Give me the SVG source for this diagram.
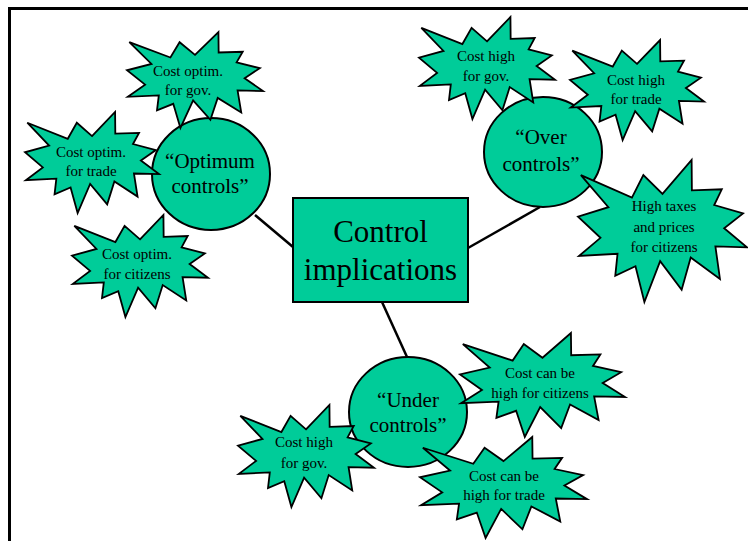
<svg xmlns="http://www.w3.org/2000/svg" xmlns:xlink="http://www.w3.org/1999/xlink" width="748" height="541" viewBox="0 0 748 541">
  <style>
    .frame { stroke: #000; stroke-width: 3; fill: none; }
    .link { stroke: #000; stroke-width: 2.5; fill: none; }
    .node { fill: #00cc99; stroke: #000; stroke-width: 2; }
    .burst { fill: #00cc99; stroke: #000; stroke-width: 1.8; stroke-linejoin: miter; vector-effect: non-scaling-stroke; }
    text { font-family: "Liberation Serif", "Times New Roman", serif; fill: #000; text-anchor: middle; }
    .big { font-size: 31px; }
    .mid { font-size: 21px; }
    .small { font-size: 15px; }
  </style>
  <defs>
    <!-- 12-spike explosion outline on a 100x100 unit box -->
    <polygon id="burst" class="burst" points="50,23.83 67.23,0 67.39,21.37 85.09,20.63 80.6,31.69 97.67,37.67 86.49,48.08 100,61.53 81.3,60.87 84,83.77 66.7,68.72 61.33,91.38 48.61,71.2 39.28,100 34.01,74.79 22.05,81.56 23.39,66.02 0.63,67.53 13.3,54.81 0,39.88 17.99,33.25 1.71,10.63 31.91,26.53 38.67,10.63"/>
  </defs>

  <rect width="748" height="541" fill="#fff"/>
  <!-- page frame (top and left edges) -->
  <path class="frame" d="M9.5,541 V8.5 H748"/>

  <g id="connectors">
    <line class="link" x1="255" y1="215" x2="293" y2="247"/>
    <line class="link" x1="468" y1="248" x2="540" y2="207"/>
    <line class="link" x1="382" y1="302" x2="407" y2="357"/>
  </g>

  <g id="center">
    <rect class="node" x="293" y="198" width="175" height="104" stroke-width="1.5"/>
    <text class="big" x="380.5" y="242">Control</text>
    <text class="big" x="380.5" y="280">implications</text>
  </g>

  <g id="optimum">
    <ellipse class="node" cx="211" cy="174" rx="59" ry="56"/>
    <text class="mid" x="210" y="168">“Optimum</text>
    <text class="mid" x="210" y="193">controls”</text>
  </g>

  <g id="over">
    <ellipse class="node" cx="543" cy="152" rx="59" ry="55"/>
    <text class="mid" x="541" y="144">“Over</text>
    <text class="mid" x="541" y="171">controls”</text>
  </g>

  <g id="under">
    <ellipse class="node" cx="408" cy="412" rx="59" ry="55"/>
    <text class="mid" x="408" y="407">“Under</text>
    <text class="mid" x="408" y="432">controls”</text>
  </g>

  <g id="optim-gov">
    <use xlink:href="#burst" transform="matrix(1.36,0,0,0.96,127,32)"/>
    <text class="small" x="188" y="76">Cost optim.</text>
    <text class="small" x="188" y="95">for gov.</text>
  </g>

  <g id="optim-trade">
    <use xlink:href="#burst" transform="matrix(1.34,0,0,1.01,25,112)"/>
    <text class="small" x="91" y="157">Cost optim.</text>
    <text class="small" x="91" y="176">for trade</text>
  </g>

  <g id="optim-citizens">
    <use xlink:href="#burst" transform="matrix(1.36,0,0,1.02,72,215)"/>
    <text class="small" x="137" y="259">Cost optim.</text>
    <text class="small" x="137" y="279">for citizens</text>
  </g>

  <g id="over-gov">
    <use xlink:href="#burst" transform="matrix(1.36,0,0,1.02,419,17)"/>
    <text class="small" x="486" y="61">Cost high</text>
    <text class="small" x="486" y="81">for gov.</text>
  </g>

  <g id="over-trade">
    <use xlink:href="#burst" transform="matrix(1.34,0,0,1.0,570,40)"/>
    <text class="small" x="636" y="85">Cost high</text>
    <text class="small" x="636" y="104">for trade</text>
  </g>

  <g id="over-citizens">
    <use xlink:href="#burst" transform="matrix(1.69,0,0,1.42,578,160)"/>
    <text class="small" x="664" y="211">High taxes</text>
    <text class="small" x="664" y="232">and prices</text>
    <text class="small" x="664" y="252">for citizens</text>
  </g>

  <g id="under-citizens">
    <use xlink:href="#burst" transform="matrix(1.65,0,0,1.04,460,333)"/>
    <text class="small" x="540" y="378">Cost can be</text>
    <text class="small" x="540" y="398">high for citizens</text>
  </g>

  <g id="under-trade">
    <use xlink:href="#burst" transform="matrix(1.67,0,0,1.01,420,437)"/>
    <text class="small" x="504" y="481">Cost can be</text>
    <text class="small" x="504" y="500">high for trade</text>
  </g>

  <g id="under-gov">
    <use xlink:href="#burst" transform="matrix(1.36,0,0,1.02,238,405)"/>
    <text class="small" x="304" y="447">Cost high</text>
    <text class="small" x="304" y="468">for gov.</text>
  </g>
</svg>
